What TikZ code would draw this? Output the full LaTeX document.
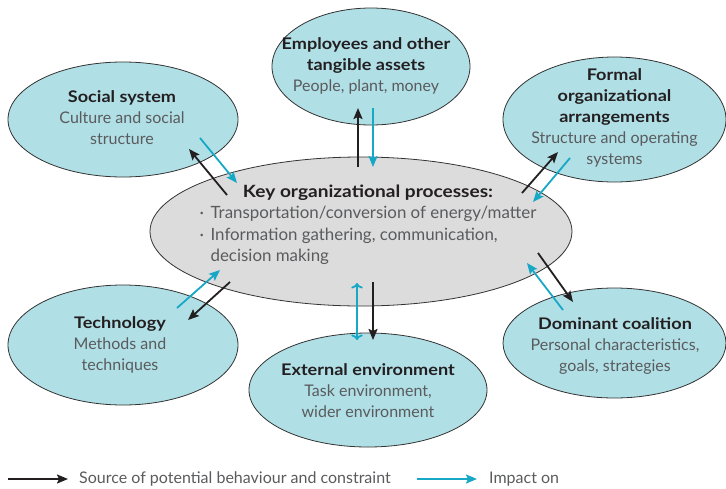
\documentclass[tikz,border=0pt]{standalone}
\usepackage{fontspec}
\setmainfont{Lato}
\newfontfamily\headfont{Lato}[FakeStretch=1.13]
\usetikzlibrary{shapes.geometric,arrows.meta}
\definecolor{pale}{HTML}{B0DFE6}
\definecolor{impactblue}{HTML}{17A8C5}
\definecolor{core}{HTML}{DCDCDD}
\definecolor{ink}{HTML}{231F20}
\definecolor{subgray}{HTML}{5A5B5D}
\newcommand{\boxhead}[1]{\textcolor{ink}{\headfont\bfseries #1}}
\begin{document}
\begin{tikzpicture}
[every node/.style={inner sep=0pt},
 outer/.style={ellipse, fill=pale, draw=black!80, line width=0.8pt},
 caption/.style={align=center, font=\fontsize{16}{21}\selectfont, text=subgray},
 source/.style={line width=1.8pt, draw=ink, -{Stealth[length=11pt, width=9pt, inset=2pt]}},
 impact/.style={line width=1.8pt, draw=impactblue, -{Stealth[length=11pt, width=9pt, inset=2pt]}}]
\useasboundingbox (0pt, 0pt) rectangle (726pt, -488pt);
% ellipses
\node (key) [ellipse, minimum width=422pt, minimum height=149pt, fill=core, draw=black!80, line width=0.8pt] at (361pt, -231.5pt) {};
\node (social) [outer, minimum width=230pt, minimum height=115pt] at (123pt, -119.5pt) {};
\node (assets) [outer, minimum width=198pt, minimum height=117pt] at (371pt, -66.5pt) {};
\node (formal) [outer, minimum width=223pt, minimum height=125pt] at (614.5pt, -119.5pt) {};
\node (tech) [outer, minimum width=230pt, minimum height=120pt] at (123pt, -345pt) {};
\node (external) [outer, minimum width=238pt, minimum height=114pt] at (368pt, -390pt) {};
\node (coalition) [outer, minimum width=223pt, minimum height=110pt] at (614.5pt, -343pt) {};
% texts
\node (keytext) [caption, font=\fontsize{16.9}{21.5}\selectfont] at (368pt, -225pt) {\begin{tabular}{@{}l@{}}
\multicolumn{1}{c}{\boxhead{Key organizational processes:}}\\
\makebox[11pt][l]{·}Transportation/conversion of energy/matter\\
\makebox[11pt][l]{·}Information gathering, communication,\\
\makebox[11pt][l]{}decision making
\end{tabular}};
\node (socialtext) [caption] at (122pt, -118pt) {\boxhead{Social system}\\Culture and social\\structure};
\node (assetstext) [caption] at (366pt, -65.5pt) {\boxhead{Employees and other}\\\boxhead{tangible assets}\\People, plant, money};
\node (formaltext) [caption] at (614.5pt, -118pt) {\boxhead{Formal}\\\boxhead{organizational}\\\boxhead{arrangements}\\Structure and operating\\systems};
\node (techtext) [caption] at (120pt, -345pt) {\boxhead{Technology}\\Methods and\\techniques};
\node (externaltext) [caption] at (368pt, -391pt) {\boxhead{External environment}\\Task environment,\\wider environment};
\node (coalitiontext) [caption] at (615pt, -346pt) {\boxhead{Dominant coalition}\\Personal characteristics,\\goals, strategies};
% arrows
\draw [source] ([shift={(-134pt, 36.5pt)}]key.center) to ([shift={(66pt, -29.5pt)}]social.center);
\draw [impact] ([shift={(77pt, -18.5pt)}]social.center) to ([shift={(-124pt, 48.5pt)}]key.center);
\draw [source] ([shift={(-3pt, 64.5pt)}]key.center) to ([shift={(-13pt, -41.5pt)}]assets.center);
\draw [impact] ([shift={(2pt, -41.5pt)}]assets.center) to ([shift={(12pt, 64.5pt)}]key.center);
\draw [source] ([shift={(161pt, 38.5pt)}]key.center) to ([shift={(-56.5pt, -32.5pt)}]formal.center);
\draw [impact] ([shift={(-44.5pt, -38.5pt)}]formal.center) to ([shift={(172pt, 29.5pt)}]key.center);
\draw [source] ([shift={(177pt, -21.5pt)}]key.center) to ([shift={(-41.5pt, 41pt)}]coalition.center);
\draw [impact] ([shift={(-51.5pt, 33pt)}]coalition.center) to ([shift={(166pt, -31.5pt)}]key.center);
\draw [impact, <->] ([shift={(-4pt, -51.5pt)}]key.center) to ([shift={(-11pt, 50pt)}]external.center);
\draw [source] ([shift={(12pt, -50.5pt)}]key.center) to ([shift={(5pt, 50pt)}]external.center);
\draw [impact] ([shift={(54pt, 37pt)}]tech.center) to ([shift={(-141pt, -38.5pt)}]key.center);
\draw [source] ([shift={(-131pt, -50.5pt)}]key.center) to ([shift={(65pt, 25pt)}]tech.center);
% legend
\node (sourcelabel) [caption, anchor=west] at (79pt, -479pt) {Source of potential behaviour and constraint};
\node (impactlabel) [caption, anchor=west] at (489pt, -479pt) {Impact on};
\coordinate (sourcetail) at (8pt, -479pt);
\coordinate (impacttail) at (417pt, -479pt);
\draw [source] (sourcetail) to ([xshift=-11pt]sourcelabel.west);
\draw [impact] (impacttail) to ([xshift=-12pt]impactlabel.west);
\end{tikzpicture}
\end{document}
